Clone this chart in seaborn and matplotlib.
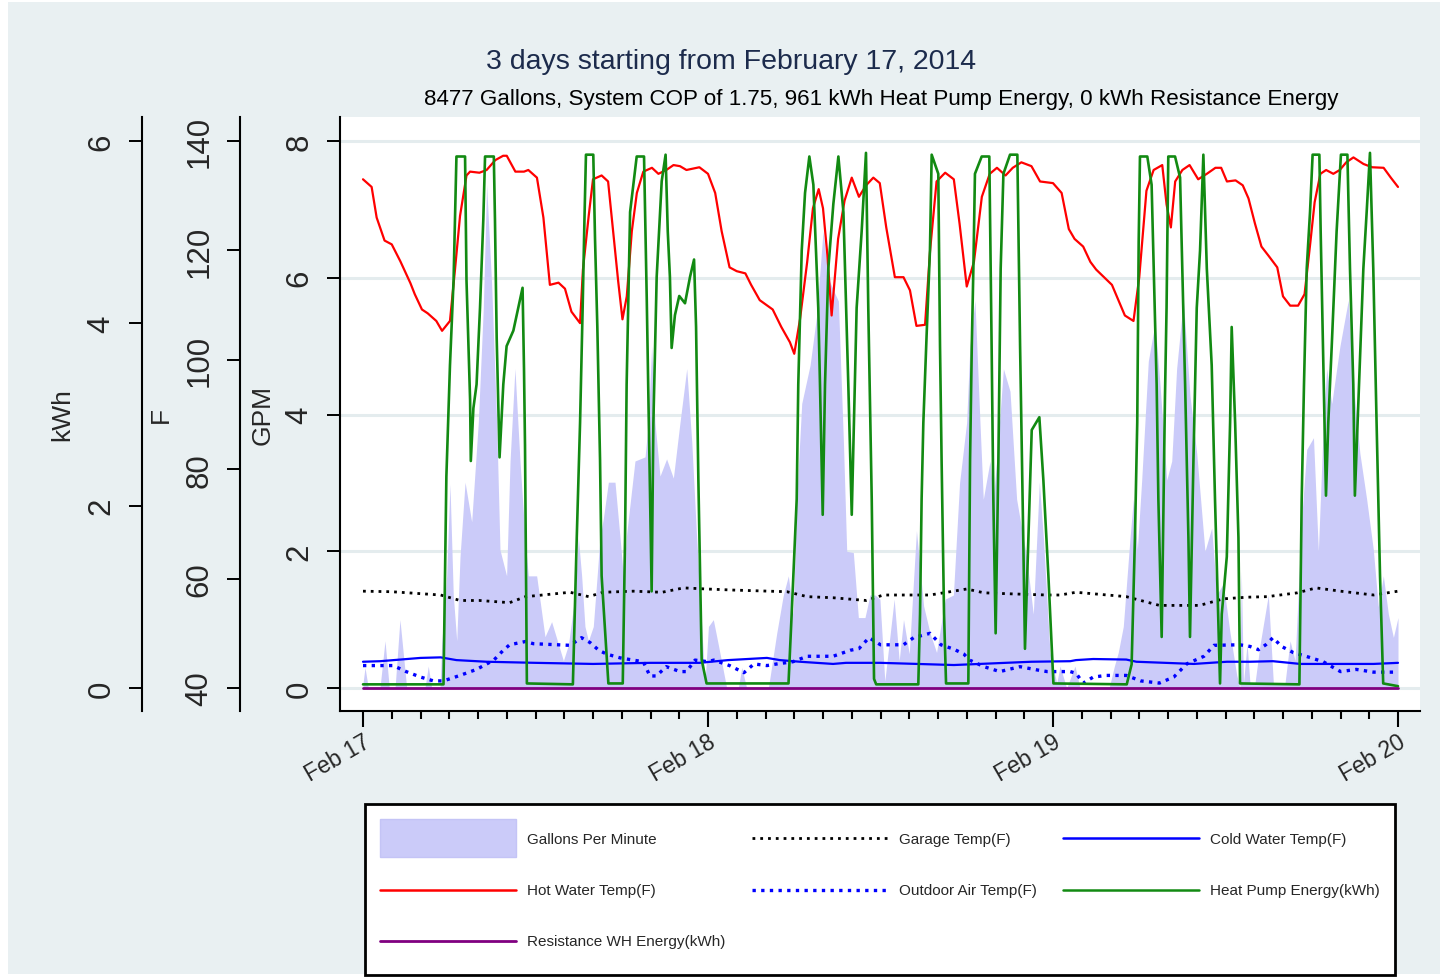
import numpy as np
import pandas as pd
import seaborn as sns
import matplotlib
matplotlib.use("Agg")
import matplotlib.pyplot as plt
from matplotlib.patches import Patch, Rectangle
from matplotlib.lines import Line2D
from matplotlib.legend_handler import HandlerLine2D
from matplotlib.ticker import MultipleLocator, FixedLocator

# ---------------- data (hours from Feb 17 00:00) ----------------
day_ticks = [0, 24, 48, 72]
day_labels = ["Feb 17", "Feb 18", "Feb 19", "Feb 20"]

gpm_t = [0.0, 0.14, 0.37, 1.18, 1.53, 1.83, 2.23, 2.57, 3.04, 4.31, 4.54, 4.78, 5.36, 5.47, 5.82,
         6.05, 6.28, 6.52, 6.75, 7.1, 7.56, 8.02, 8.37, 8.6, 8.95, 9.3, 9.53, 9.99, 10.23, 10.57,
         10.92, 11.27, 11.5, 12.08, 12.66, 13.12, 13.94, 14.29, 14.75, 14.98, 15.21, 15.44, 15.68,
         16.02, 16.49, 16.72, 17.07, 17.53, 17.88, 18.11, 18.34, 18.92, 19.62, 19.85, 20.08, 20.31,
         20.66, 21.12, 21.59, 22.05, 22.52, 22.87, 23.21, 23.44, 23.79, 24.03, 24.37, 24.72, 25.3,
         26.11, 26.35, 26.69, 28.2, 28.78, 29.24, 29.59, 29.93, 30.17, 30.52, 31.1, 31.56, 32.0,
         32.37, 32.72, 33.07, 33.42, 33.65, 34.11, 34.46, 34.92, 35.27, 35.62, 35.96, 36.3, 36.95,
         37.3, 37.6, 38.0, 38.5, 39.0, 39.45, 39.9, 40.5, 41.07, 41.5, 41.99, 42.22, 42.57, 42.92,
         43.15, 43.62, 43.85, 44.08, 44.55, 45.01, 45.47, 45.93, 46.16, 46.63, 47.05, 47.33, 47.79,
         48.26, 48.49, 48.95, 49.53, 49.88, 51.9, 52.27, 52.54, 52.89, 53.36, 53.59, 53.87, 54.17,
         54.63, 55.1, 55.44, 55.91, 56.26, 56.6, 57.07, 57.53, 58.0, 58.57, 59.04, 59.39, 59.85,
         60.32, 60.78, 61.0, 61.1, 61.25, 61.5, 61.7, 62.05, 62.4, 62.98, 63.33, 64.14, 64.49,
         64.84, 65.3, 65.65, 66.12, 66.46, 66.81, 67.04, 67.39, 67.96, 68.54, 68.89, 69.35, 69.82,
         70.28, 70.63, 70.98, 71.33, 71.68, 72.0]
gpm_v = [0.07, 0.3, 0.0, 0.0, 0.69, 0.0, 0.0, 1.0, 0.0, 0.0, 0.32, 0.0, 0.0, 0.63, 1.64,
         2.98, 1.36, 0.69, 1.92, 3.01, 2.43, 3.88, 5.56, 7.36, 5.9, 3.88, 2.02, 1.64, 3.32, 4.67,
         3.32, 2.2, 1.64, 1.64, 0.75, 0.97, 0.4, 0.63, 1.36, 2.2, 1.64, 0.9, 0.69,
         0.9, 2.2, 2.48, 3.01, 3.01, 2.2, 1.64, 2.25, 3.32, 3.38, 3.88, 5.0, 3.88,
         3.1, 3.35, 3.07, 3.88, 4.67, 3.6, 2.2, 1.36, 0.07, 0.9, 1.0, 0.63, 0.0,
         0.0, 0.3, 0.0, 0.0, 0.8, 1.36, 1.64, 1.08, 2.76, 4.16, 4.72, 5.45, 6.68,
         5.99, 5.82, 5.66, 3.6, 2.0, 1.98, 1.03, 1.03, 1.36, 1.36, 1.3, 0.1, 1.3,
         0.4, 1.0, 0.5, 2.3, 1.2, 0.8, 0.52, 1.3, 1.36, 3.0, 3.88, 5.0, 5.67, 3.88,
         2.76, 3.32, 2.76, 3.32, 4.67, 4.34, 2.76, 2.2, 1.92, 1.08, 3.01, 2.2, 0.52,
         0.07, 0.32, 0.0, 0.32, 0.0, 0.0, 0.32, 0.52, 0.9, 2.2, 2.76, 2.03, 3.04,
         4.78, 5.34, 4.45, 3.04, 3.32, 4.67, 5.67, 4.27, 3.43, 2.0, 2.34, 1.36, 1.53,
         0.8, 0.19, 0.0, 1.7, 0.07, 0.65, 0.07, 0.07, 0.63, 1.36, 0.07, 0.07, 0.69,
         0.4, 2.48, 3.49, 3.66, 2.0, 3.88, 4.67, 4.16, 5.0, 5.67, 4.45, 3.43, 2.76,
         2.03, 1.19, 1.64, 1.08, 0.74, 1.03]

garage_t = [0, 2.0, 5.4, 6.75, 8.1, 10.2, 11.3, 12.1, 14.4, 15.7, 16.7, 18.8, 20.8, 22.3, 23.9,
            25.8, 29.5, 30.9, 32.7, 35.0, 36.2, 39.45, 42.0, 43.2, 45.2, 47.6, 48.5, 49.6, 53.1,
            55.4, 58.2, 59.85, 61.5, 62.9, 65.0, 66.3, 68.0, 70.3, 72.0]
garage_f = [57.7, 57.6, 57.0, 56.0, 56.0, 55.6, 56.7, 56.9, 57.5, 56.7, 57.5, 57.7, 57.5, 58.3, 58.1,
            57.9, 57.6, 56.7, 56.5, 56.0, 57.0, 57.0, 58.1, 57.4, 57.2, 57.0, 57.0, 57.5, 56.7,
            55.1, 55.1, 56.3, 56.6, 56.7, 57.4, 58.3, 57.7, 57.0, 57.7]

cold_t = [0, 1.2, 4.0, 5.4, 6.5, 8.6, 12.0, 16.0, 20.0, 23.4, 25.4, 28.1, 29.0, 30.4, 32.7, 33.6,
          36.0, 41.1, 46.5, 49.2, 49.6, 50.8, 53.1, 53.8, 57.8, 60.1, 61.7, 63.3, 65.2, 70.3, 72.0]
cold_f = [44.8, 44.9, 45.5, 45.6, 45.1, 44.8, 44.6, 44.4, 44.6, 44.6, 45.1, 45.5, 45.1, 44.8, 44.4, 44.6,
          44.6, 44.2, 44.8, 44.9, 45.1, 45.3, 45.2, 44.8, 44.4, 44.8, 44.8, 44.9, 44.4, 44.4, 44.6]

hot_t = [0.0, 0.6, 0.95, 1.5, 2.0, 2.6, 3.3, 3.6, 4.1, 4.5, 5.1, 5.5, 6.05, 6.4, 6.75, 7.2, 7.45,
         8.1, 8.6, 9.2, 9.75, 10.0, 10.6, 11.2, 11.5, 12.1, 12.55, 13.0, 13.6, 14.05, 14.5, 15.1,
         15.3, 15.7, 16.0, 16.6, 17.05, 17.4, 17.75, 18.05, 18.35, 18.7, 19.05, 19.5, 20.1, 20.55,
         21.1, 21.6, 22.05, 22.5, 23.4, 24.0, 24.5, 24.95, 25.5, 26.0, 26.6, 27.0, 27.6, 28.5,
         29.1, 29.7, 30.0, 30.4, 30.9, 31.3, 31.7, 32.0, 32.3, 32.6, 33.05, 33.5, 34.0, 34.5,
         35.0, 35.5, 35.95, 36.4, 37.0, 37.6, 38.05, 38.5, 39.1, 39.45, 39.9, 40.5, 41.1, 41.5,
         42.0, 42.5, 43.05, 43.6, 44.1, 44.7, 45.2, 45.8, 46.5, 47.1, 48.0, 48.6, 49.1, 49.5,
         50.1, 50.6, 51.0, 52.1, 52.55, 53.0, 53.6, 54.0, 54.5, 55.0, 55.6, 55.9, 56.2, 56.5,
         57.0, 57.5, 58.1, 58.7, 59.3, 59.7, 60.1, 60.7, 61.2, 61.6, 62.05, 62.5, 63.0, 63.6,
         64.0, 64.5, 65.05, 65.5, 65.9, 66.2, 66.6, 67.0, 67.5, 67.95, 68.4, 68.9, 69.6, 70.2,
         71.0, 71.5, 72.0]
hot_f = [133.0, 131.6, 126.0, 121.8, 121.1, 118.0, 114.0, 112.0, 109.2, 108.5, 107.1, 105.3, 107.1,
         116.5, 126.3, 133.7, 134.4, 134.2, 134.7, 136.5, 137.3, 137.3, 134.4, 134.4, 134.7, 133.3,
         126.0, 113.7, 114.1, 113.0, 108.8, 106.7, 116.5, 126.3, 133.0, 133.7, 132.6, 123.5, 114.4,
         107.4, 111.6, 123.5, 130.5, 134.4, 135.1, 134.0, 134.7, 135.6, 135.4, 134.7, 135.2, 134.0,
         130.5, 123.5, 116.9, 116.2, 115.8, 113.7, 110.9, 109.2, 106.0, 103.2, 101.1, 107.4, 117.9,
         127.7, 131.2, 127.7, 119.3, 108.1, 122.1, 129.1, 133.3, 129.8, 131.9, 133.3, 132.3, 124.2,
         115.1, 115.1, 112.7, 106.2, 106.4, 120.0, 132.6, 134.2, 133.0, 124.9, 113.4, 117.9, 129.8,
         134.0, 135.1, 133.7, 135.1, 136.1, 135.4, 132.6, 132.3, 130.5, 123.9, 122.1, 120.7, 117.9,
         116.5, 113.7, 110.9, 108.1, 107.1, 115.1, 130.9, 134.7, 135.6, 128.4, 124.2, 132.6, 134.7,
         135.6, 133.0, 134.0, 135.1, 135.1, 132.6, 132.8, 131.9, 129.5, 124.9, 120.7, 119.0, 116.9,
         111.6, 109.9, 109.9, 112.0, 121.4, 128.8, 134.0, 134.7, 134.0, 134.7, 136.1, 137.0, 135.8,
         135.2, 135.1, 133.3, 131.6]

outdoor_t = [0, 2.1, 3.0, 4.0, 4.9, 5.6, 6.75, 7.9, 9.1, 9.76, 10.2, 11.3, 11.85, 14.4, 15.2, 15.8,
             16.4, 16.95, 17.9, 18.8, 19.5, 19.96, 20.4, 21.1, 22.05, 22.5, 23.1, 24.0, 24.4, 25.5,
             26.5, 27.2, 28.1, 28.8, 29.9, 30.9, 32.7, 33.9, 34.5, 35.2, 36.0, 37.6, 38.3, 39.45,
             40.2, 41.1, 41.8, 42.2, 43.2, 44.3, 45.7, 46.9, 47.6, 49.2, 49.6, 50.1, 50.8, 51.7,
             53.1, 54.1, 55.4, 56.4, 57.3, 58.5, 59.2, 61.0, 61.7, 62.3, 62.8, 63.3, 63.9, 64.7,
             65.6, 66.8, 68.0, 69.1, 70.3, 72.0]
outdoor_f = [44.1, 44.1, 43.0, 42.0, 41.3, 41.3, 42.3, 43.4, 45.1, 46.9, 47.9, 48.5, 48.1, 47.8, 49.2, 48.3,
             46.9, 46.2, 45.5, 45.1, 44.8, 42.2, 42.2, 43.9, 43.0, 43.0, 45.1, 44.8, 45.1, 44.1,
             42.8, 44.4, 44.1, 44.4, 44.8, 45.8, 45.8, 46.9, 47.2, 49.2, 47.9, 47.9, 49.2, 50.0,
             47.9, 47.1, 46.2, 45.1, 43.9, 43.0, 43.9, 43.3, 43.0, 43.0, 42.7, 40.9, 42.0, 42.3,
             42.3, 41.3, 40.9, 42.0, 44.4, 45.8, 47.8, 47.9, 47.6, 47.0, 47.9, 49.2, 47.6, 46.5,
             45.8, 44.8, 43.0, 43.4, 42.9, 42.9]

hp_t = [0.0, 5.5, 5.6, 5.8, 6.05, 6.3, 6.5, 7.1, 7.2, 7.45, 7.5, 7.68, 7.9, 8.14, 8.37, 8.49, 9.1,
        9.18, 9.3, 9.5, 9.76, 9.99, 10.46, 11.1, 11.2, 11.27, 11.4, 14.6, 14.87, 15.1, 15.28, 15.4,
        15.51, 16.02, 16.14, 16.3, 16.49, 16.6, 17.07, 18.07, 18.23, 18.34, 18.58, 19.04, 19.55,
        19.74, 19.97, 20.08, 20.2, 20.43, 20.78, 21.05, 21.2, 21.35, 21.47, 21.7, 22.0, 22.4, 22.75,
        23.03, 23.17, 23.33, 23.56, 23.9, 29.6, 29.82, 30.17, 30.28, 30.52, 30.75, 31.05, 31.33,
        31.67, 31.79, 31.98, 32.14, 32.37, 32.72, 33.07, 33.42, 33.76, 34.0, 34.15, 34.34, 34.69,
        34.99, 35.15, 35.39, 35.55, 35.7, 38.63, 38.75, 38.86, 38.98, 39.21, 39.44, 39.56, 40.02,
        40.14, 40.25, 40.42, 40.56, 42.11, 42.23, 42.35, 42.46, 42.57, 43.04, 43.57, 43.73, 43.85,
        44.01, 44.2, 44.36, 44.55, 45.01, 45.52, 45.71, 45.93, 46.05, 46.29, 46.52, 47.05, 47.33,
        47.68, 48.03, 53.13, 53.47, 53.7, 53.86, 53.96, 54.05, 54.56, 54.86, 55.21, 55.33, 55.56,
        55.79, 55.9, 56.02, 56.49, 56.84, 57.19, 57.42, 57.53, 57.77, 58.0, 58.23, 58.46, 58.7,
        59.04, 59.27, 59.62, 59.74, 60.09, 60.32, 60.43, 60.67, 60.9, 61.01, 65.14, 65.3, 65.46,
        65.65, 65.88, 66.06, 66.53, 66.62, 66.81, 66.99, 67.15, 67.39, 67.73, 68.03, 68.48, 68.66,
        68.89, 69.0, 69.24, 69.59, 69.82, 70.05, 70.28, 70.51, 70.75, 70.97, 72.0]
hp_kwh = [0.04, 0.04, 0.04, 2.32, 3.54, 4.47, 5.83, 5.83, 4.47, 3.16, 2.49, 3.07, 3.33, 4.17, 5.14, 5.83, 5.83,
          5.14, 3.84, 2.53, 3.33, 3.75, 3.92, 4.39, 3.5, 2.66, 0.05, 0.04, 1.65, 2.91, 4.17, 5.1,
          5.85, 5.85, 4.93, 3.97, 2.5, 1.23, 0.05, 0.05, 1.65, 3.33, 5.22, 5.83, 5.83,
          4.26, 2.07, 1.06, 2.91, 4.51, 5.56, 5.85, 5.01, 4.51, 3.73, 4.09, 4.3, 4.22, 4.51,
          4.7, 3.96, 2.28, 0.31, 0.05, 0.05, 0.81, 2.07, 3.33, 4.8, 5.43, 5.83, 5.52,
          4.17, 3.33, 1.9, 3.33, 4.6, 5.31, 5.83, 5.22, 3.33, 1.9, 2.91, 4.17, 5.01,
          5.87, 4.17, 2.07, 0.1, 0.04, 0.04, 0.81, 2.07, 2.91, 3.88, 4.8, 5.85, 5.64,
          3.75, 2.5, 0.81, 0.05, 0.05, 2.5, 3.75, 4.6, 5.64, 5.83, 5.83, 3.75, 2.07,
          0.6, 2.5, 4.6, 5.64, 5.85, 5.85, 3.75, 1.65, 0.43, 1.65, 2.83, 2.97, 2.28,
          1.23, 0.05, 0.04, 0.26, 1.65, 2.91, 4.89, 5.83, 5.83, 5.52, 3.33, 2.07, 0.56,
          3.2, 4.17, 5.83, 5.83, 5.6, 3.33, 1.65, 0.56, 2.5, 4.17, 4.8, 5.85, 4.6,
          3.54, 2.07, 0.05, 0.81, 1.44, 2.91, 3.96, 2.91, 1.65, 0.05, 0.04, 2.07, 3.33,
          4.6, 5.22, 5.85, 5.85, 5.01, 3.54, 2.11, 2.91, 3.75, 5.01, 5.85, 5.85, 4.6,
          3.33, 2.11, 3.12, 4.6, 5.22, 5.87, 4.6, 2.91, 1.23, 0.05, 0.02]

res_t = [0.0, 72.0]
res_kwh = [0.0, 0.0]

# ---------------- styling ----------------
W, H = 1443, 978
sns.set_theme(style="white")
plt.rcParams["font.family"] = ["Liberation Sans", "DejaVu Sans"]

BG = "#e9f0f2"
C_FILL = "#cbcbf9"
C_HOT = "#ff0000"
C_HP = "#128a12"
C_BLUE = "#0000ff"
C_RES = "#800080"
C_GAR = "#000000"

fig = plt.figure(figsize=(W / 100, H / 100), dpi=100)
fig.patch.set_facecolor("white")
fig.patches.append(Rectangle((8 / W, 3 / H), (1440 - 8) / W, (975 - 3) / H,
                             transform=fig.transFigure, facecolor=BG, edgecolor="none", zorder=-10))

L, R, T, B = 340, 1420, 118, 712
ax = fig.add_axes([L / W, 1 - B / H, (R - L) / W, (B - T) / H])
ax.set_facecolor("white")

px_per_gpm = (689 - 142) / 8.0
gpm_lo = -(B - 689) / px_per_gpm
gpm_hi = 8 + (142 - T) / px_per_gpm
x_lo = -(363 - L) / (345 / 24)
x_hi = 72 + (R - 1398) / (345 / 24)

# GPM area (main axis)
ax.fill_between(gpm_t, gpm_v, 0, color=C_FILL, linewidth=0, zorder=1)
ax.set_xlim(x_lo, x_hi)
ax.set_ylim(gpm_lo, gpm_hi)

ax_f = ax.twinx()
ax_k = ax.twinx()
ax_f.set_ylim(40 + gpm_lo * 12.5, 40 + gpm_hi * 12.5)
ax_k.set_ylim(gpm_lo * 0.75, gpm_hi * 0.75)

# temperatures (F axis)
sns.lineplot(x=garage_t, y=garage_f, ax=ax_f, color=C_GAR, linewidth=2.0,
             linestyle=(0, (1, 1.8)), estimator=None, sort=False)
sns.lineplot(x=cold_t, y=cold_f, ax=ax_f, color=C_BLUE, linewidth=1.6, estimator=None, sort=False)
sns.lineplot(x=hot_t, y=hot_f, ax=ax_f, color=C_HOT, linewidth=1.6, estimator=None, sort=False)
sns.lineplot(x=outdoor_t, y=outdoor_f, ax=ax_f, color=C_BLUE, linewidth=2.4,
             linestyle=(0, (1, 1.6)), estimator=None, sort=False)
# energies (kWh axis)
sns.lineplot(x=hp_t, y=hp_kwh, ax=ax_k, color=C_HP, linewidth=1.9, estimator=None, sort=False)
sns.lineplot(x=res_t, y=res_kwh, ax=ax_k, color=C_RES, linewidth=2.0, estimator=None, sort=False)

for a in (ax_f, ax_k):
    a.set_xlim(x_lo, x_hi)

# ---------- axes cosmetics ----------
for a in (ax, ax_f, ax_k):
    for s in ("top", "right"):
        a.spines[s].set_visible(False)
    a.set_xlabel("")
ax.spines["bottom"].set_visible(True)
ax_f.spines["bottom"].set_visible(False)
ax_k.spines["bottom"].set_visible(False)

axis_w = R - L
for a, pos in ((ax, 0.0), (ax_f, (240 - L) / axis_w), (ax_k, (142 - L) / axis_w)):
    sp = a.spines["left"]
    sp.set_visible(True)
    sp.set_position(("axes", pos))
    sp.set_color("black")
    sp.set_linewidth(1.5)
    a.yaxis.set_ticks_position("left")
    a.yaxis.set_label_position("left")
    a.tick_params(axis="y", which="major", direction="out", length=9.5, width=1.4,
                  color="black", labelsize=22.5, pad=9, labelrotation=90, left=True, right=False,
                  labelleft=True, labelright=False)

ax.spines["bottom"].set_color("black")
ax.spines["bottom"].set_linewidth(1.5)

ax.yaxis.set_major_locator(FixedLocator([0, 2, 4, 6, 8]))
ax_f.yaxis.set_major_locator(FixedLocator([40, 60, 80, 100, 120, 140]))
ax_k.yaxis.set_major_locator(FixedLocator([0, 2, 4, 6]))
for a in (ax, ax_f, ax_k):
    for lab in a.get_yticklabels():
        lab.set_va("center")

ax.set_xticks(day_ticks)
ax.set_xticklabels(day_labels, rotation=30, ha="right", rotation_mode="anchor", fontsize=16.5)
ax.xaxis.set_minor_locator(MultipleLocator(2))
ax.tick_params(axis="x", which="major", direction="out", length=11.5, width=1.5, color="black",
               pad=2, bottom=True)
ax.tick_params(axis="x", which="minor", direction="out", length=6, width=1.5, color="black",
               bottom=True)
ax_f.tick_params(axis="x", which="both", bottom=False, labelbottom=False)
ax_k.tick_params(axis="x", which="both", bottom=False, labelbottom=False)

ax.yaxis.grid(True, color="#e4ecee", linewidth=2.2)
ax.xaxis.grid(False)
ax.set_axisbelow(True)

ax.set_ylabel("GPM", fontsize=19)
ax_f.set_ylabel("F", fontsize=19)
ax_k.set_ylabel("kWh", fontsize=19)
ax.yaxis.set_label_coords((275 - L) / axis_w, 0.5)
ax_f.yaxis.set_label_coords((173 - L) / axis_w, 0.5)
ax_k.yaxis.set_label_coords((74 - L) / axis_w, 0.5)

# ---------- titles ----------
fig.text(731 / W, 1 - 62 / H, "3 days starting from February 17, 2014", ha="center", va="center",
         fontsize=20.5, color="#1c2b4c")
fig.text(881 / W, 1 - 100 / H,
         "8477 Gallons, System COP of 1.75, 961 kWh Heat Pump Energy, 0 kWh Resistance Energy",
         ha="center", va="center", fontsize=16.1, color="black")


# ---------- legend ----------
class CenteredLineHandler(HandlerLine2D):
    """Line handle centred on the (tall) legend row, like the area swatch."""
    def create_artists(self, legend, orig_handle, xdescent, ydescent, width, height,
                       fontsize, trans):
        return super().create_artists(legend, orig_handle, xdescent, 2 * ydescent,
                                      width, height, fontsize, trans)


h_gpm = Patch(facecolor=C_FILL, edgecolor="#c4c4f6", linewidth=1.0)
h_gar = Line2D([], [], color=C_GAR, linewidth=2.0, linestyle=(0, (1, 1.8)))
h_cold = Line2D([], [], color=C_BLUE, linewidth=1.8)
h_hot = Line2D([], [], color=C_HOT, linewidth=1.8)
h_out = Line2D([], [], color=C_BLUE, linewidth=2.4, linestyle=(0, (1, 1.6)))
h_hp = Line2D([], [], color=C_HP, linewidth=1.8)
h_res = Line2D([], [], color=C_RES, linewidth=2.0)
handles = [h_gpm, h_hot, h_res, h_gar, h_out, h_cold, h_hp]
labels = ["Gallons Per Minute", "Hot Water Temp(F)", "Resistance WH Energy(kWh)",
          "Garage Temp(F)", "Outdoor Air Temp(F)", "Cold Water Temp(F)", "Heat Pump Energy(kWh)"]
leg = fig.legend(handles, labels, ncol=3, loc="upper left",
                 bbox_to_anchor=(365 / W, 1 - 805 / H), fontsize=11, borderaxespad=0.0,
                 handlelength=8.9, handleheight=3.45, handletextpad=0.72,
                 columnspacing=1.71, labelspacing=0.88, borderpad=1.0,
                 frameon=True, fancybox=False, framealpha=1.0,
                 facecolor="white", edgecolor="black",
                 handler_map={Line2D: CenteredLineHandler()})
leg.get_frame().set_linewidth(2.0)

fig.savefig("out.png", dpi=100, facecolor=fig.get_facecolor())
